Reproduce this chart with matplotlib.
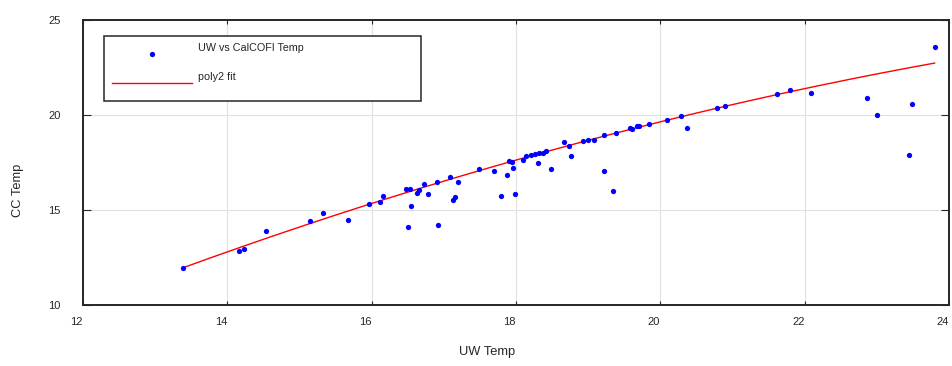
import numpy as np
import matplotlib
matplotlib.use("Agg")
import matplotlib.pyplot as plt
from matplotlib.patches import Rectangle
import matplotlib.transforms as mtransforms

plt.rcParams['font.family'] = ['Liberation Sans', 'DejaVu Sans']

# ---- data ----
uw_temp = [13.39, 14.155, 14.23, 14.54, 15.15, 15.32, 15.67, 15.96, 16.12, 16.15,
           16.47, 16.53, 16.51, 16.55, 16.63, 16.65, 16.73, 16.78, 16.90, 16.92,
           17.09, 17.13, 17.16, 17.19, 17.49, 17.70, 17.79, 17.88, 17.90, 17.94,
           17.96, 17.99, 18.10, 18.14, 18.21, 18.26, 18.30, 18.32, 18.37, 18.41,
           18.49, 18.67, 18.73, 18.76, 18.93, 19.00, 19.08, 19.22, 19.22, 19.35,
           19.38, 19.58, 19.61, 19.68, 19.71, 19.84, 20.09, 20.29, 20.37, 20.78,
           20.89, 21.62, 21.79, 22.09, 22.87, 23.00, 23.45, 23.48, 23.80]
cc_temp = [11.95, 12.84, 12.93, 13.89, 14.39, 14.84, 14.47, 15.32, 15.42, 15.74,
           16.09, 16.11, 14.11, 15.21, 15.88, 16.04, 16.37, 15.81, 16.47, 14.21,
           16.70, 15.53, 15.68, 16.47, 17.13, 17.05, 15.70, 16.84, 17.58, 17.49,
           17.19, 15.81, 17.63, 17.83, 17.86, 17.93, 17.47, 17.96, 17.98, 18.11,
           17.14, 18.56, 18.37, 17.84, 18.62, 18.67, 18.67, 18.92, 17.05, 16.00,
           19.04, 19.28, 19.25, 19.39, 19.39, 19.51, 19.74, 19.95, 19.32, 20.35,
           20.47, 21.11, 21.28, 21.14, 20.90, 19.97, 17.86, 20.58, 23.55]
fit_coef = [-0.03338, 2.2756, -12.535]   # poly2 fit: a*x^2 + b*x + c
x_ticks = [12, 14, 16, 18, 20, 22, 24]
y_ticks = [10, 15, 20, 25]
legend_labels = ["UW vs CalCOFI Temp", "poly2 fit"]
x_label = "UW Temp"
y_label = "CC Temp"

TXT = '#262626'

fig = plt.figure(figsize=(9.52, 3.66), dpi=100)
ax = fig.add_axes([0.0872, 0.1675, 0.9097, 0.7787])

ax.plot(uw_temp, cc_temp, linestyle='none', marker='o', markersize=3.8,
        color='#0000ff', markeredgewidth=0, zorder=3)
xf = np.linspace(min(uw_temp), max(uw_temp), 200)
ax.plot(xf, np.polyval(fit_coef, xf), color='#ff0000', linewidth=1.0, zorder=2)

ax.set_xlim(12, 24)
ax.set_ylim(10, 25)
ax.set_xticks(x_ticks)
ax.set_yticks(y_ticks)
ax.grid(True, color='#e0e0e0', linewidth=0.8)
ax.set_axisbelow(True)
for s in ax.spines.values():
    s.set_color('#262626')
    s.set_linewidth(1.4)
ax.tick_params(axis='both', direction='in', top=True, right=True,
               colors='#262626', labelcolor=TXT, labelsize=8, width=0.8)
ax.tick_params(axis='x', length=3.0, pad=9)
ax.tick_params(axis='y', length=6.0, pad=16)

# shift x tick labels slightly left like the reference
off = mtransforms.ScaledTranslation(-6.5 / 100, 0, fig.dpi_scale_trans)
for lab in ax.get_xticklabels():
    lab.set_transform(lab.get_transform() + off)

ax.set_xlabel(x_label, fontsize=9.3, color=TXT)
ax.xaxis.set_label_coords(0.4665, -0.166)
ax.xaxis.label.set_va('center')
ax.set_ylabel(y_label, fontsize=9.3, color=TXT)
ax.yaxis.set_label_coords(-0.0745, 0.402)
ax.yaxis.label.set_va('center')

# legend drawn MATLAB-style
ax.add_patch(Rectangle((0.0242, 0.716), 0.3661, 0.228, transform=ax.transAxes,
                       facecolor='white', edgecolor='#262626', linewidth=1.1, zorder=5))
ax.plot([0.080], [0.880], transform=ax.transAxes, linestyle='none', marker='o',
        markersize=3.8, color='#0000ff', markeredgewidth=0, zorder=6, clip_on=False)
ax.plot([0.0335, 0.126], [0.779, 0.779], transform=ax.transAxes, color='#ff0000',
        linewidth=1.0, zorder=6)
ax.text(0.1328, 0.902, legend_labels[0], transform=ax.transAxes, fontsize=7.75,
        color=TXT, va='center', ha='left', zorder=7)
ax.text(0.1328, 0.799, legend_labels[1], transform=ax.transAxes, fontsize=7.75,
        color=TXT, va='center', ha='left', zorder=7)

fig.savefig('out.png', dpi=100)
